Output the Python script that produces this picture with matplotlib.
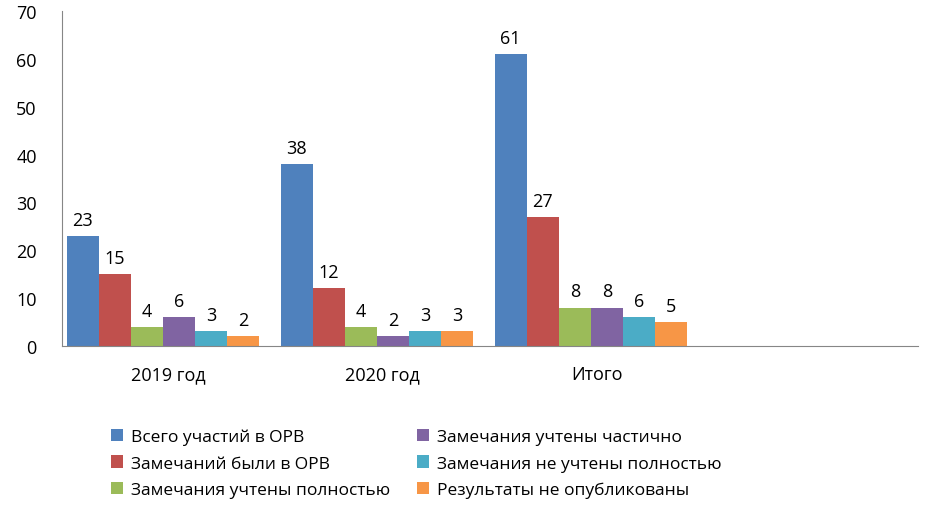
import matplotlib.pyplot as plt
import numpy as np

plt.rcParams['font.family'] = 'Open Sans'

categories = ['2019 год', '2020 год', 'Итого', '']
series_names = ['Всего участий в ОРВ', 'Замечаний были в ОРВ', 'Замечания учтены полностью',
                'Замечания учтены частично', 'Замечания не учтены полностью', 'Результаты не опубликованы']
values = [
    [23, 38, 61],
    [15, 12, 27],
    [4, 4, 8],
    [6, 2, 8],
    [3, 3, 6],
    [2, 3, 5],
]
colors = ['#4F81BD', '#C0504D', '#9BBB59', '#8064A2', '#4BACC6', '#F79646']

fig = plt.figure(figsize=(9.5, 5.1), dpi=100)
ax = fig.add_axes([0.065, 0.32, 0.901, 0.656])

bw = 0.15
start = 0.023
x = np.arange(3)
for i, (name, vals) in enumerate(zip(series_names, values)):
    pos = x + start + bw * i + bw / 2
    bars = ax.bar(pos, vals, bw, color=colors[i], label=name)
    for p, v in zip(pos, vals):
        ax.text(p, v + 1.5, str(v), ha='center', va='bottom', fontsize=13)

ax.set_xlim(0, 4)
ax.set_ylim(0, 70)
ax.set_yticks(range(0, 71, 10))
ax.set_xticks(np.arange(4) + 0.5)
ax.set_xticklabels(categories, fontsize=13)
ax.tick_params(axis='y', labelsize=13, length=0, pad=18)
ax.tick_params(axis='x', length=0, pad=14)
for s in ['top', 'right']:
    ax.spines[s].set_visible(False)
ax.spines['left'].set_color('#868686')
ax.spines['bottom'].set_color('#868686')

fig.legend(loc='lower left', bbox_to_anchor=(0.1, -0.01), ncol=2, frameon=False,
           fontsize=12.5, handlelength=0.7, handleheight=0.7, columnspacing=1.5,
           labelspacing=0.6, handletextpad=0.5)

fig.savefig('out.png')
